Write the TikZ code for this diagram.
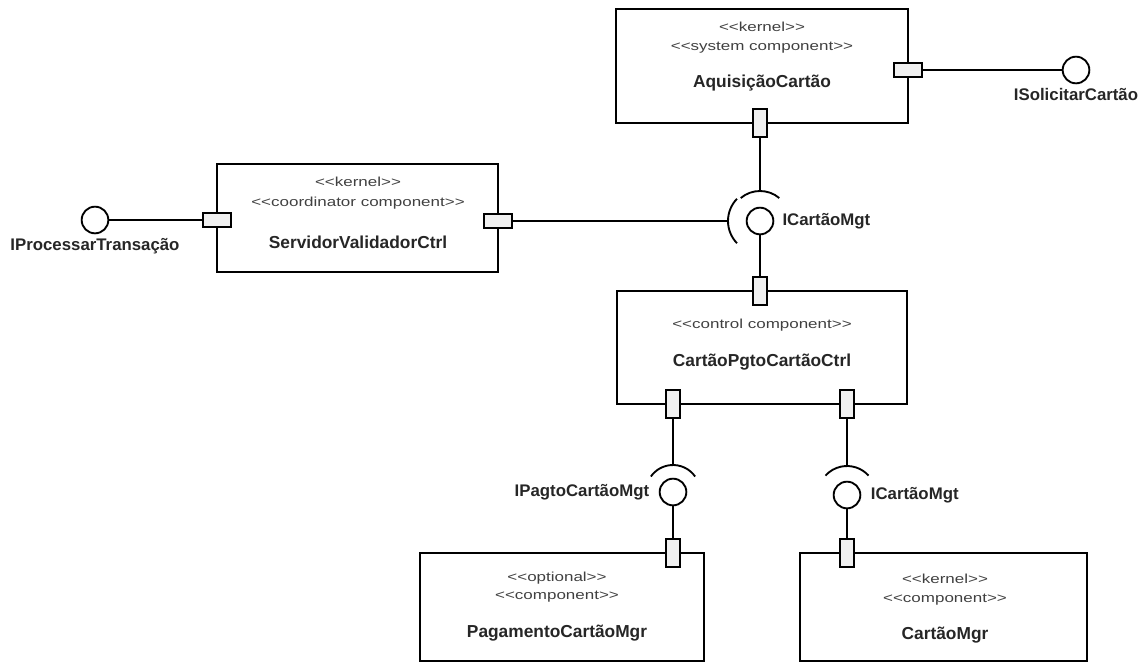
\documentclass[tikz,border=0pt]{standalone}
\usepackage{fontspec}
\setmainfont{Liberation Sans}
\newfontfamily\stereofont[FakeStretch=1.3]{Liberation Sans}
\newcommand\stereoL{<\kern0pt<}
\newcommand\stereoR{>\kern0pt>}
\usetikzlibrary{positioning}
\begin{document}
\begin{tikzpicture}[x=0.75pt, y=-0.75pt,
    comp/.style={draw, line width=2pt, fill=white, inner sep=0pt},
    port/.style={draw, line width=1.4pt, fill=black!6, inner sep=0pt},
    vport/.style={port, minimum width=10.5pt, minimum height=21pt},
    hport/.style={port, minimum width=21pt, minimum height=10.5pt},
    ball/.style={draw, circle, line width=1.4pt, fill=white, minimum size=20pt, inner sep=0pt},
    wire/.style={line width=1.4pt},
    stereo/.style={font=\stereofont\fontsize{9.8}{11}\selectfont, text=black!75},
    cname/.style={font=\bfseries\fontsize{13}{15}\selectfont, text=black!85},
    iname/.style={font=\bfseries\fontsize{12.6}{14}\selectfont, text=black!85, inner sep=1pt}]
    \useasboundingbox (0,0) rectangle (1141,664);

    % components
    \node[comp, minimum width=219pt, minimum height=85.5pt] (aq) at (762,66) {};
    \node[stereo] (aqk) at (762,27) {\stereoL kernel\stereoR};
    \node[stereo] (aqs) at (762,48) {\stereoL system component\stereoR};
    \node[cname] (aqn) at (762,83) {AquisiçãoCartão};

    \node[comp, minimum width=210.75pt, minimum height=81pt] (sv) at (357.5,218) {};
    \node[stereo] (svk) at (358,182) {\stereoL kernel\stereoR};
    \node[stereo] (svs) at (358,203) {\stereoL coordinator component\stereoR};
    \node[cname] (svn) at (358,242) {ServidorValidadorCtrl};

    \node[comp, minimum width=217.5pt, minimum height=84.75pt] (cp) at (762,347.5) {};
    \node[stereo] (cps) at (762,325) {\stereoL control component\stereoR};
    \node[cname] (cpn) at (762,362) {CartãoPgtoCartãoCtrl};

    \node[comp, minimum width=213pt, minimum height=81pt] (pg) at (562,607) {};
    \node[stereo] (pgo) at (557,578) {\stereoL optional\stereoR};
    \node[stereo] (pgs) at (557,597) {\stereoL component\stereoR};
    \node[cname] (pgn) at (557,633) {PagamentoCartãoMgr};

    \node[comp, minimum width=215.25pt, minimum height=81pt] (cm) at (943.5,607) {};
    \node[stereo] (cmk) at (945,579) {\stereoL kernel\stereoR};
    \node[stereo] (cms) at (945,600) {\stereoL component\stereoR};
    \node[cname] (cmn) at (945,635) {CartãoMgr};

    % ports
    \node[vport] (aqp) at (760,123) {};
    \node[hport] (aqr) at (908,70) {};
    \node[hport] (svl) at (217,220) {};
    \node[hport] (svr) at (498,221) {};
    \node[vport] (cpt) at (760,291) {};
    \node[vport] (cpl) at (673,404) {};
    \node[vport] (cpr) at (847,404) {};
    \node[vport] (pgp) at (673,553) {};
    \node[vport] (cmp) at (847,553) {};

    % interfaces
    \node[ball] (isol) at (1076,70) {};
    \node[iname, below=2pt of isol] (isoltxt) {ISolicitarCartão};
    \node[ball] (iproc) at (95,220) {};
    \node[iname, below=2pt of iproc] (iproctxt) {IProcessarTransação};
    \node[ball] (icm) at (760,221) {};
    \node[iname, right=5pt of icm] (icmtxt) {ICartãoMgt};
    \node[ball] (ipg) at (673,492) {};
    \node[iname, left=6pt of ipg] (ipgtxt) {IPagtoCartãoMgt};
    \node[ball] (icm2) at (847,495) {};
    \node[iname, right=6pt of icm2] (icm2txt) {ICartãoMgt};

    % sockets
    \draw[wire] (icm) ++(50:22.5pt) arc[start angle=50, end angle=130, radius=22.5pt];
    \draw[wire] (icm) ++(136:24pt) arc[start angle=136, end angle=224, radius=24pt];
    \draw[wire] (ipg) ++(35:20.25pt) arc[start angle=35, end angle=145, radius=20.25pt];
    \draw[wire] (icm2) ++(42:21.75pt) arc[start angle=42, end angle=138, radius=21.75pt];
    \coordinate (icmtop) at (760,191);
    \coordinate (icmleft) at (728,221);
    \coordinate (ipgtop) at (673,465);
    \coordinate (icm2top) at (847,466);

    % wires
    \draw[wire] (aqr.east) -- (isol.west);
    \draw[wire] (iproc.east) -- (svl.west);
    \draw[wire] (svr.east) -- (icmleft);
    \draw[wire] (aqp.south) -- (icmtop);
    \draw[wire] (icm.south) -- (cpt.north);
    \draw[wire] (cpl.south) -- (ipgtop);
    \draw[wire] (ipg.south) -- (pgp.north);
    \draw[wire] (cpr.south) -- (icm2top);
    \draw[wire] (icm2.south) -- (cmp.north);
\end{tikzpicture}
\end{document}
